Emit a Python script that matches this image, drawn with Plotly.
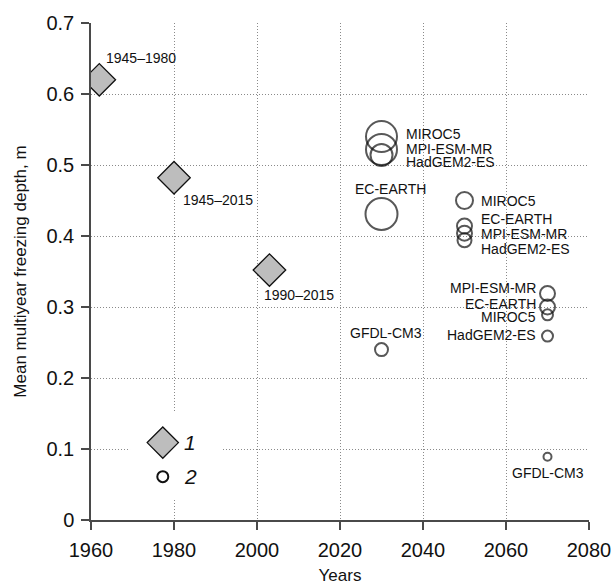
import plotly.graph_objects as go

# Observed data (diamonds)
obs_years = [1962, 1980, 2003]
obs_depth = [0.62, 0.482, 0.352]
obs_labels = ["1945\u20131980", "1945\u20132015", "1990\u20132015"]

# Model projections (circles)
mod_years = [2030, 2030, 2030, 2030, 2030,
             2050, 2050, 2050, 2050,
             2070, 2070, 2070, 2070, 2070]
mod_depth = [0.54, 0.522, 0.514, 0.431, 0.24,
             0.45, 0.414, 0.404, 0.394,
             0.319, 0.300, 0.289, 0.259, 0.089]
mod_labels = ["MIROC5", "MPI-ESM-MR", "HadGEM2-ES", "EC-EARTH", "GFDL-CM3",
              "MIROC5", "EC-EARTH", "MPI-ESM-MR", "HadGEM2-ES",
              "MPI-ESM-MR", "EC-EARTH", "MIROC5", "HadGEM2-ES", "GFDL-CM3"]
mod_size = [31, 31, 22, 32, 13,
            17, 15, 15, 14,
            15, 15, 11, 11, 8]

x_ticks = [1960, 1980, 2000, 2020, 2040, 2060, 2080]
y_ticks = [0, 0.1, 0.2, 0.3, 0.4, 0.5, 0.6, 0.7]
y_tick_text = ["0", "0.1", "0.2", "0.3", "0.4", "0.5", "0.6", "0.7"]

legend_x = 1977.3
legend_y = [0.109, 0.061]
legend_text = ["1", "2"]

FONT = "Liberation Sans, Arial, sans-serif"
INK = "#111111"
LBL = 14

fig = go.Figure()

fig.add_trace(go.Scatter(
    x=mod_years, y=mod_depth, mode="markers",
    marker=dict(symbol="circle-open", size=mod_size, color=INK, line=dict(width=2, color=INK)),
    showlegend=False, hoverinfo="skip"))

fig.add_trace(go.Scatter(
    x=obs_years, y=obs_depth, mode="markers",
    marker=dict(symbol="diamond", size=25, color="#bdbdbd", line=dict(width=1.3, color=INK)),
    showlegend=False, hoverinfo="skip"))

# legend block
fig.add_shape(type="rect", xref="x", yref="y", x0=1969.4, x1=1991.6, y0=0.031, y1=0.151,
              fillcolor="white", line=dict(width=0), layer="between")
fig.add_trace(go.Scatter(
    x=[legend_x], y=[legend_y[0]], mode="markers",
    marker=dict(symbol="diamond", size=24, color="#bdbdbd", line=dict(width=1.3, color=INK)),
    showlegend=False, hoverinfo="skip"))
fig.add_trace(go.Scatter(
    x=[legend_x], y=[legend_y[1]], mode="markers",
    marker=dict(symbol="circle-open", size=11, color=INK, line=dict(width=2, color=INK)),
    showlegend=False, hoverinfo="skip"))
for yv, t in zip(legend_y, legend_text):
    fig.add_annotation(x=legend_x, y=yv, text="<i>%s</i>" % t, showarrow=False,
                       xanchor="left", xshift=19, font=dict(size=21, family=FONT, color=INK))

# labels for observations: (xanchor, xshift, yshift)
obs_offsets = [("left", 5, 22), ("left", 7, -22), ("left", -7, -25)]
for xv, yv, t, (xa, dx, dy) in zip(obs_years, obs_depth, obs_labels, obs_offsets):
    fig.add_annotation(x=xv, y=yv, text=t, showarrow=False, xanchor=xa, xshift=dx, yshift=dy,
                       font=dict(size=LBL, family=FONT, color=INK))

# labels for models
mod_offsets = [("left", 22, 3), ("left", 22, 0), ("left", 22, -7), ("center", 9, 25), ("center", 4, 17),
               ("left", 14, 0), ("left", 14, 7), ("left", 14, -1), ("left", 14, -9),
               ("right", -10, 6), ("right", -10, 3), ("right", -10, -2), ("right", -10, 1), ("center", 0, -16)]
for xv, yv, t, (xa, dx, dy) in zip(mod_years, mod_depth, mod_labels, mod_offsets):
    fig.add_annotation(x=xv, y=yv, text=t, showarrow=False, xanchor=xa, xshift=dx, yshift=dy,
                       font=dict(size=LBL, family=FONT, color=INK))

axis_common = dict(
    showline=True, linecolor="#4a4a4a", linewidth=1.5,
    ticks="outside", ticklen=8, tickcolor="#4a4a4a", tickwidth=1.5,
    showgrid=True, gridcolor="#8a8a8a", griddash="1px,2px", gridwidth=1,
    zeroline=False, tickfont=dict(size=20, family=FONT, color=INK), automargin=False,
)

fig.update_xaxes(range=[1960, 2080], tickvals=x_ticks, ticklabelstandoff=3, **axis_common,
                 title=dict(text="Years", font=dict(size=17, family=FONT, color=INK), standoff=10))
fig.update_yaxes(range=[0, 0.7], tickvals=y_ticks, ticktext=y_tick_text, ticklabelstandoff=3, **axis_common,
                 title=dict(text="Mean multiyear freezing depth, m", font=dict(size=17, family=FONT, color=INK), standoff=15))

fig.update_layout(
    width=616, height=585,
    margin=dict(l=91, r=27, t=23, b=65),
    plot_bgcolor="white", paper_bgcolor="white",
    font=dict(family=FONT, color=INK),
)

fig.write_html("out.html")
